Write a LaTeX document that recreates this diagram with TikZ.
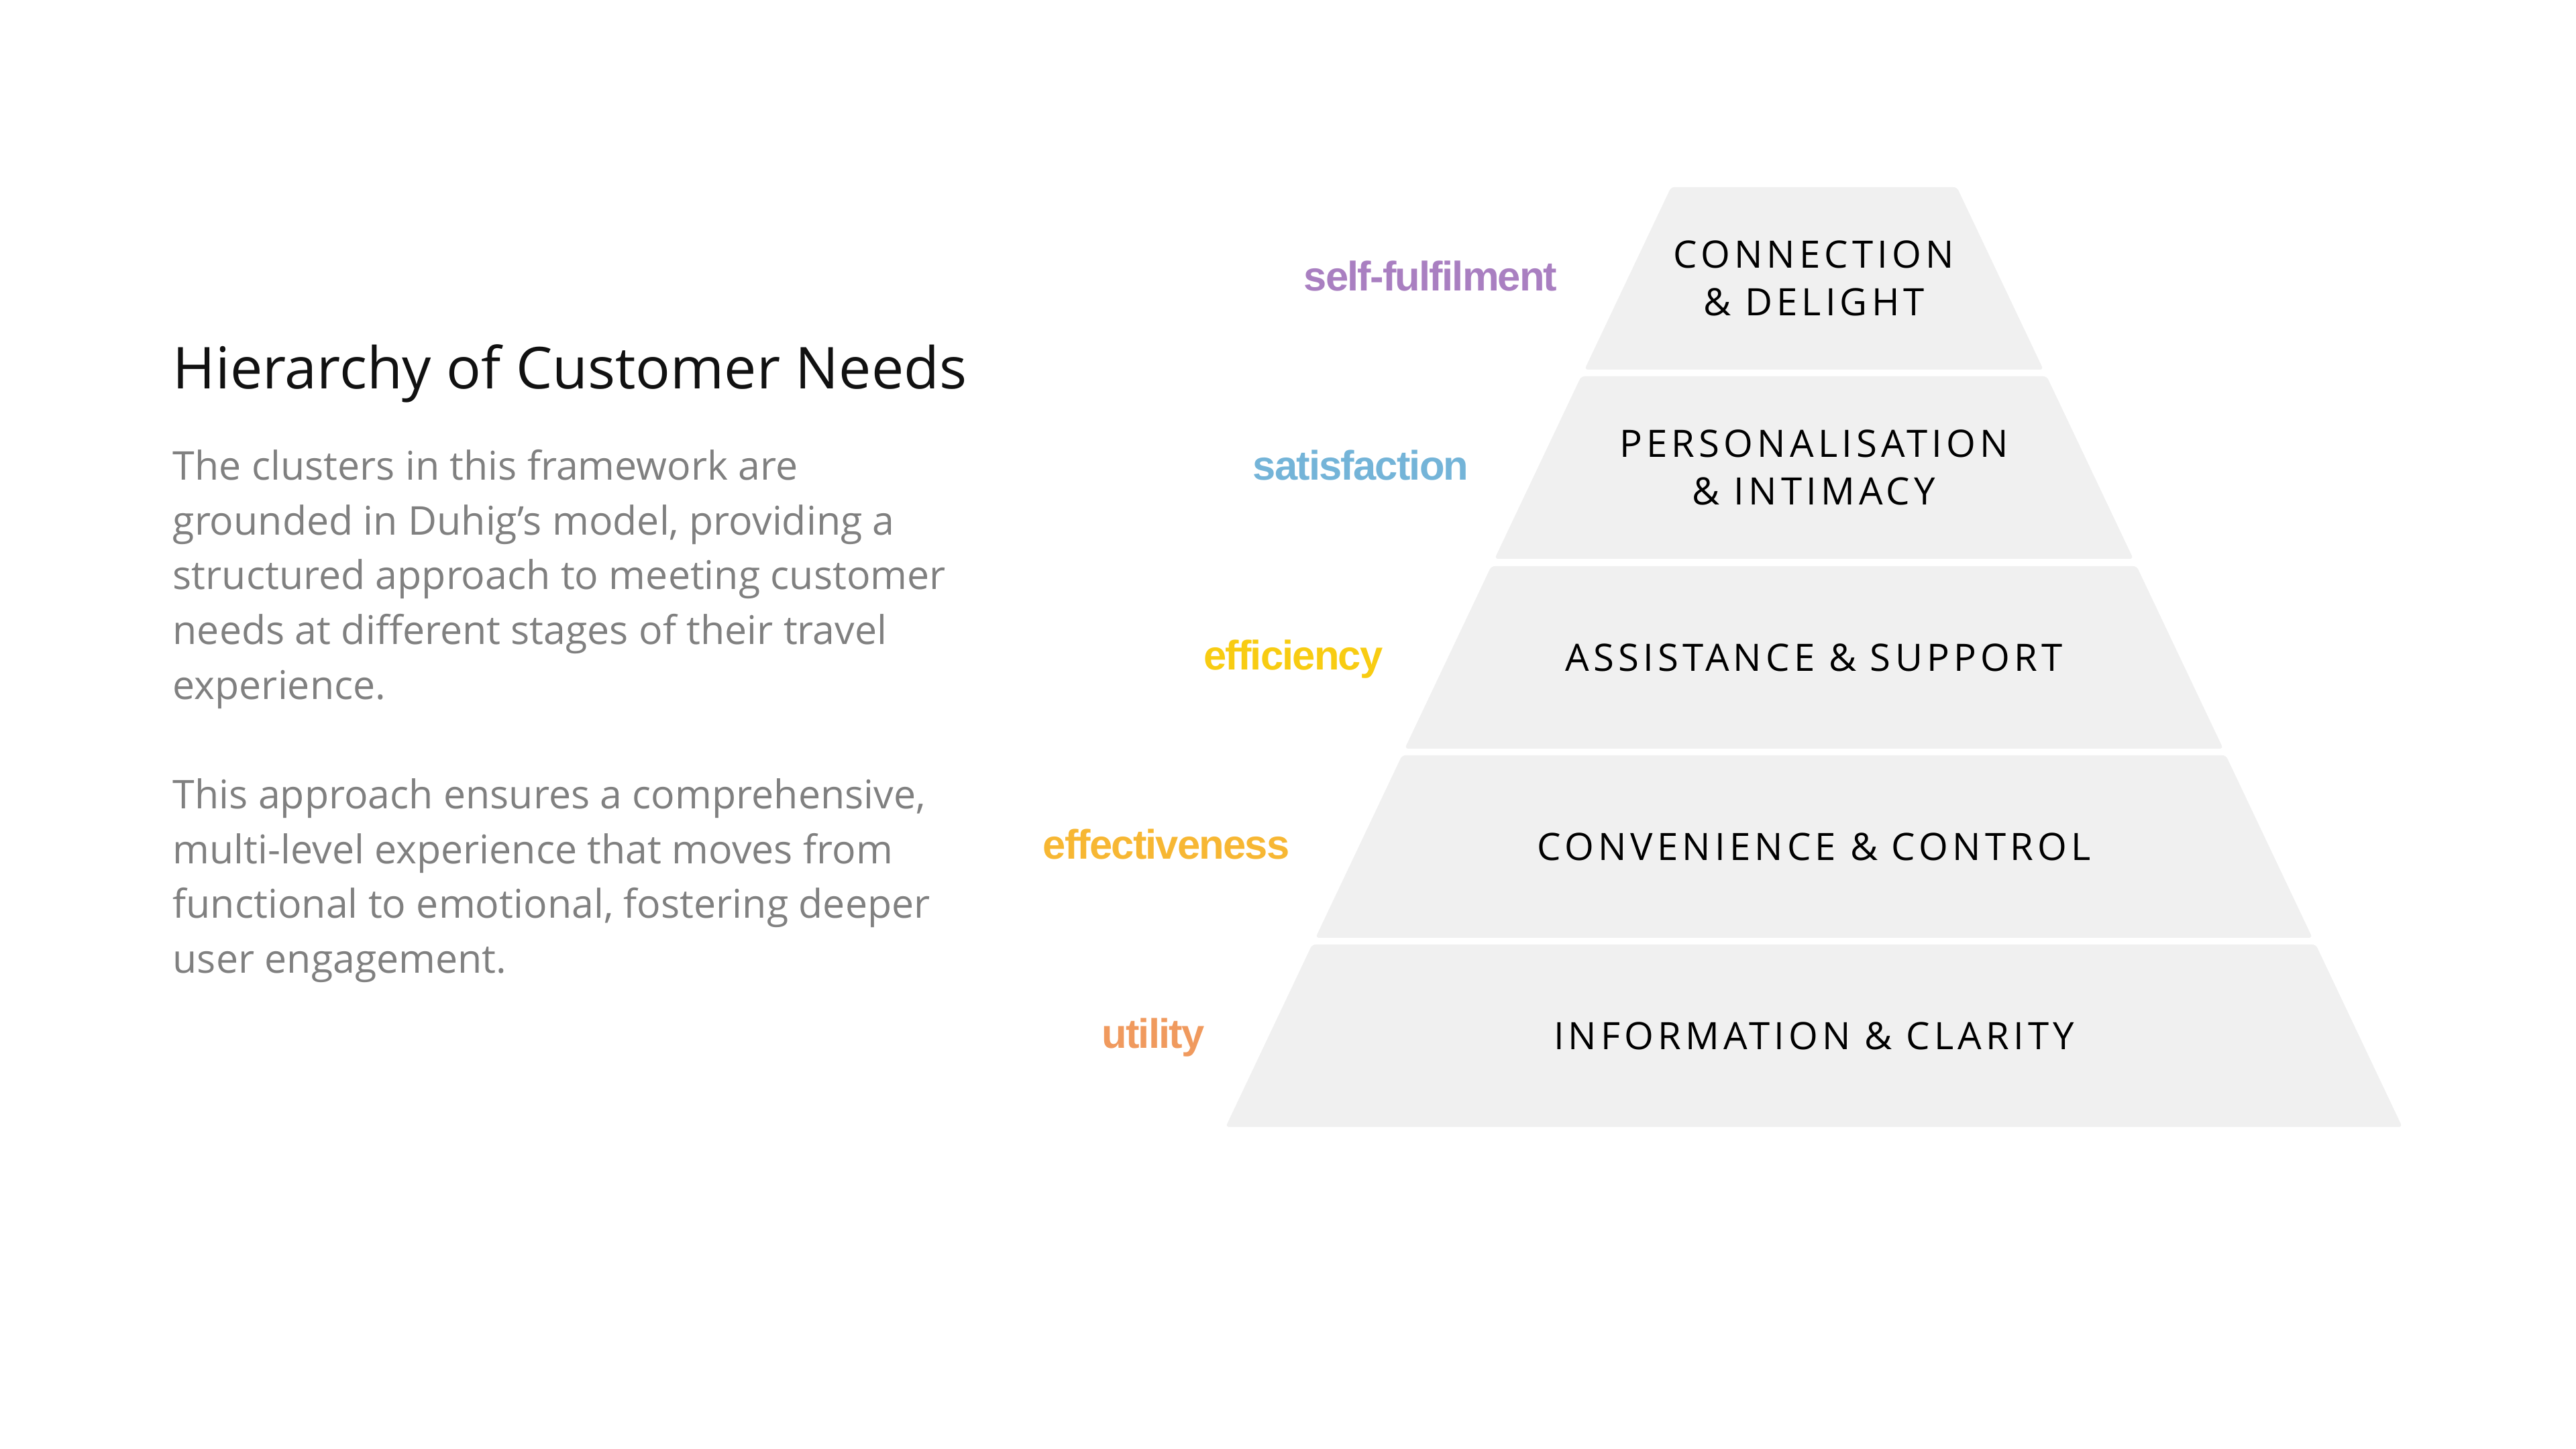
\documentclass[tikz,border=0pt]{standalone}
\usepackage{fontspec}
\setmainfont{Open Sans}
\newfontfamily\labelfont{Liberation Sans}
\usetikzlibrary{positioning}
\definecolor{bandgray}{HTML}{F0F0F0}
\definecolor{bodygray}{HTML}{808080}
\definecolor{titleblack}{HTML}{111111}
\definecolor{fulfilpurple}{HTML}{A97FC1}
\definecolor{satisblue}{HTML}{74B4D8}
\definecolor{efficyellow}{HTML}{F8CC12}
\definecolor{effectamber}{HTML}{F7B733}
\definecolor{utilorange}{HTML}{F09A5E}
\begin{document}
\begin{tikzpicture}[x=1cm,y=1cm]
\tikzset{
  band/.style={fill=bandgray,rounded corners=1.5pt},
  bandtext/.style={align=center,inner sep=0pt,text=black,
    font=\fontsize{16pt}{20.2pt}\selectfont\addfontfeatures{LetterSpace=11}},
  needlabel/.style={anchor=base east,inner sep=0pt,
    font=\labelfont\bfseries\fontsize{17.5pt}{20pt}\selectfont\addfontfeatures{LetterSpace=-3}},
  titletext/.style={anchor=base west,inner sep=0pt,text=titleblack,font=\fontsize{24.5pt}{30pt}\selectfont},
  bodytext/.style={anchor=north west,inner sep=0pt,align=left,text=bodygray,
    font=\fontsize{16.8pt}{23.2pt}\selectfont}
}
\fill[white] (0,0) rectangle (38.4,21.6);
% pyramid bands, top to bottom
\fill[band] (24.91,18.81) -- (29.17,18.81) -- (30.46,16.09) -- (23.62,16.09) -- cycle;
\fill[band] (23.57,15.99) -- (30.51,15.99) -- (31.80,13.27) -- (22.28,13.27) -- cycle;
\fill[band] (22.23,13.16) -- (31.85,13.16) -- (33.14,10.44) -- (20.94,10.44) -- cycle;
\fill[band] (20.90,10.34) -- (33.18,10.34) -- (34.47,7.62) -- (19.61,7.62) -- cycle;
\fill[band] (19.56,7.52) -- (34.52,7.52) -- (35.81,4.80) -- (18.27,4.80) -- cycle;
\node[bandtext] (band_top) at (27.04,17.45) {CONNECTION\\\& DELIGHT};
\node[bandtext] (band_pers) at (27.04,14.63) {PERSONALISATION\\\& INTIMACY};
\node[bandtext] (band_assist) at (27.04,11.80) {ASSISTANCE \& SUPPORT};
\node[bandtext] (band_conv) at (27.04,8.98) {CONVENIENCE \& CONTROL};
\node[bandtext] (band_info) at (27.04,6.16) {INFORMATION \& CLARITY};
% need levels
\node[needlabel,text=fulfilpurple] (need_fulfil) at (23.22,17.26) {self-fulfilment};
\node[needlabel,text=satisblue] (need_satis) at (21.90,14.44) {satisfaction};
\node[needlabel,text=efficyellow] (need_effic) at (20.62,11.61) {efficiency};
\node[needlabel,text=effectamber] (need_effect) at (19.23,8.79) {effectiveness};
\node[needlabel,text=utilorange] (need_util) at (17.96,5.97) {utility};
% left column
\node[titletext] (title) at (2.57,15.80) {Hierarchy of Customer Needs};
\node[bodytext] (para_one) at (2.57,14.90) {The clusters in this framework are\\
grounded in Duhig’s model, providing a\\
structured approach to meeting customer\\
needs at different stages of their travel\\
experience.};
\node[bodytext] (para_two) at (2.57,10.00) {This approach ensures a comprehensive,\\
multi-level experience that moves from\\
functional to emotional, fostering deeper\\
user engagement.};
\end{tikzpicture}
\end{document}
